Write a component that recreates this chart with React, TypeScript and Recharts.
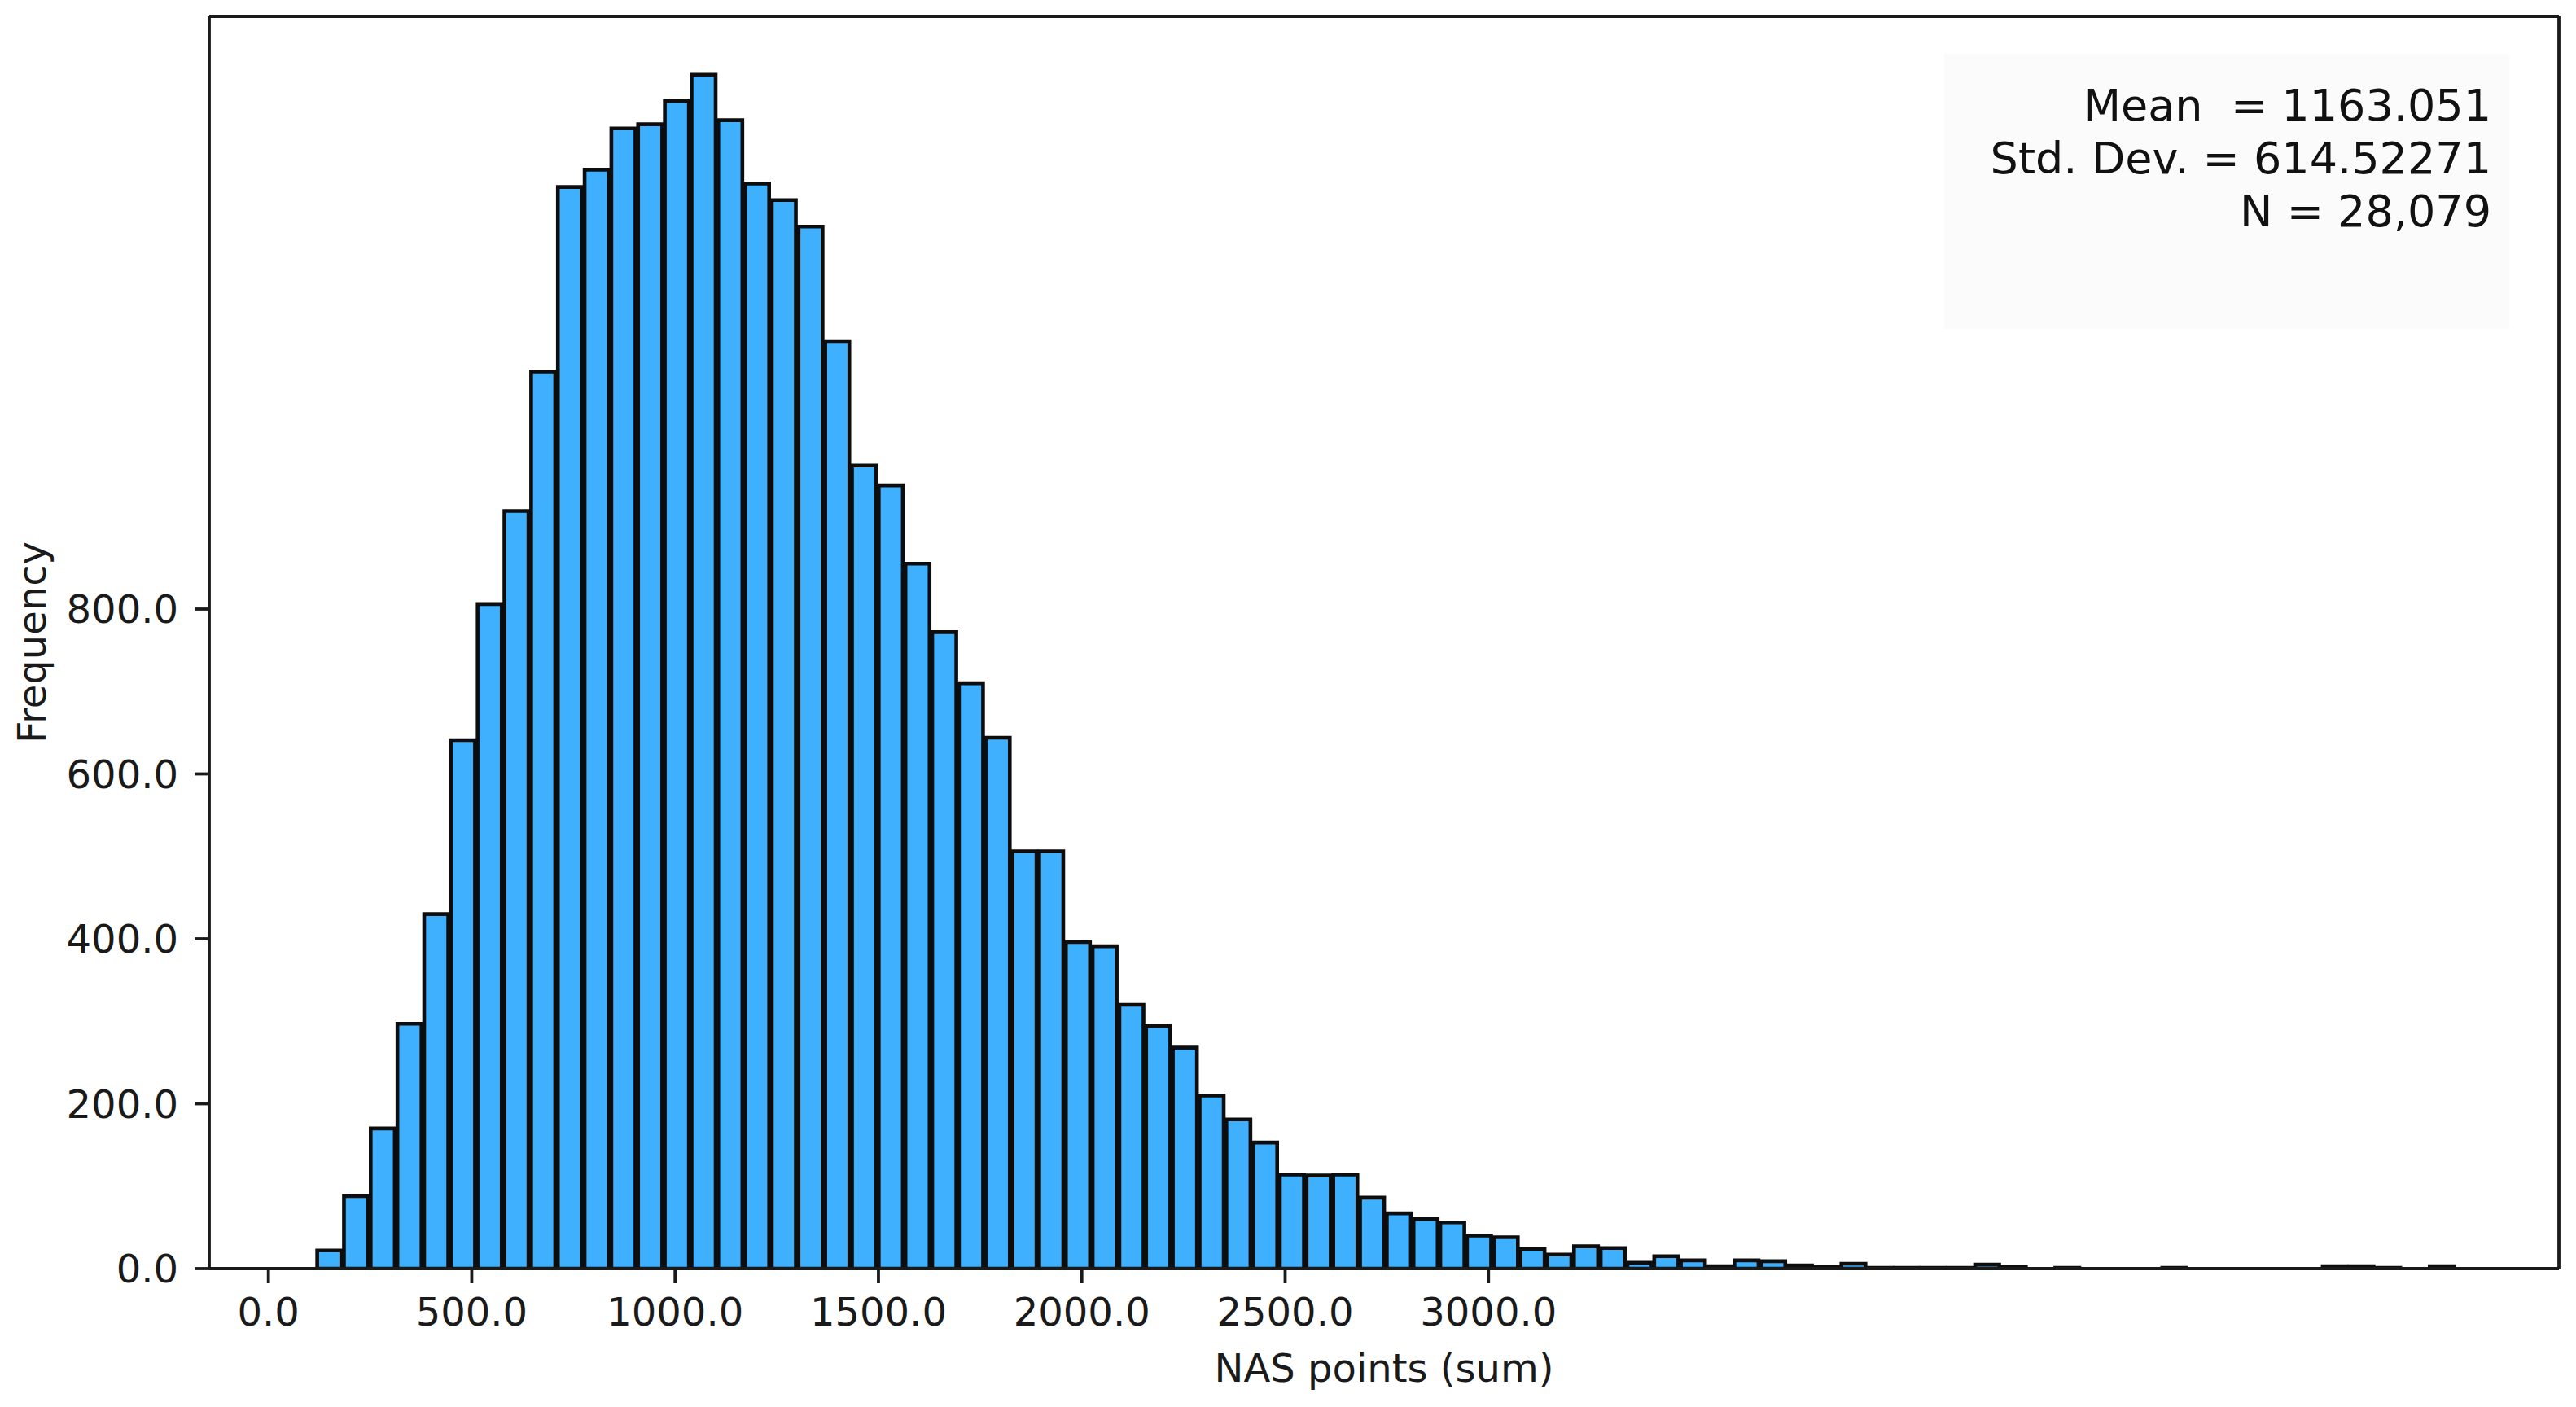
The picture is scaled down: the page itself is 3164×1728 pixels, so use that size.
import React from "react";
import { BarChart, Bar, XAxis, YAxis, ReferenceLine, Customized } from "recharts";

// histogram bins: 80 equal bins starting at BIN_START
const BIN_START = 116;
const BIN_WIDTH = 65.75;
const COUNTS = [
  22, 88, 170, 297, 430, 641, 806, 919, 1088, 1312,
  1333, 1383, 1388, 1416, 1448, 1393, 1316, 1296, 1264, 1125,
  974, 950, 855, 772, 710, 644, 506, 506, 396, 391,
  320, 294, 268, 210, 181, 153, 114, 113, 114, 86,
  67, 60, 56, 40, 38, 24, 17, 27, 25, 7,
  15, 10, 3, 10, 9, 4, 2, 6, 1, 1,
  1, 1, 5, 2, 0, 1, 0, 0, 0, 1,
  0, 0, 0, 0, 0, 3, 3, 1, 0, 3,
];
const X_TICKS = [0, 500, 1000, 1500, 2000, 2500, 3000];
const Y_TICKS = [0, 200, 400, 600, 800];
const STATS = ["Mean\u00a0 = 1163.051", "Std. Dev. = 614.52271", "N = 28,079"];

const X_MIN = -145.5;
const X_MAX = 5632;
const Y_MAX = 1519;

const W = 3164;
const H = 1728;
const MARGIN = { top: 20, right: 21, left: 0, bottom: 0 };
const Y_AXIS_W = 257;
const X_AXIS_H = 170;
const FONT = "DejaVu Sans";
const INK = "#1a1a1a";
const BAR_FILL = "#3fb0fd";
const LINE_W = 3.8;

const data = COUNTS.map((count, i) => ({
  center: BIN_START + (i + 0.5) * BIN_WIDTH,
  count,
}));

const plotW = W - Y_AXIS_W - MARGIN.left - MARGIN.right;
const barSize = (BIN_WIDTH / (X_MAX - X_MIN)) * plotW;

const tickStyle = { fontFamily: FONT, fontSize: 48, fill: INK };

function StatsBox() {
  return (
    <g>
      <rect x={2388} y={66} width={694} height={338} fill="#fbfbfb" />
      {STATS.map((s, i) => (
        <text
          key={i}
          x={3060}
          y={148 + i * 65}
          textAnchor="end"
          fontFamily={FONT}
          fontSize={54}
          fill="#111"
        >
          {s}
        </text>
      ))}
    </g>
  );
}

function YLabel(props: any) {
  const vb = props.viewBox || { x: 0, y: 0, height: 0 };
  const x = vb.x + 39;
  const y = vb.y + vb.height / 2;
  return (
    <text
      x={x}
      y={y}
      transform={`rotate(-90 ${x} ${y})`}
      textAnchor="middle"
      dominantBaseline="central"
      fontFamily={FONT}
      fontSize={48}
      fill={INK}
    >
      Frequency
    </text>
  );
}

export default function App() {
  return (
    <div style={{ position: "absolute", left: 0, top: 0, width: W, height: H, background: "#fff" }}>
      <BarChart
        width={W}
        height={H}
        data={data}
        margin={MARGIN}
        barCategoryGap={0}
        barGap={0}
      >
        <XAxis
          dataKey="center"
          type="number"
          domain={[X_MIN, X_MAX]}
          allowDataOverflow
          ticks={X_TICKS}
          tickFormatter={(v: number) => v.toFixed(1)}
          height={X_AXIS_H}
          tick={tickStyle}
          tickSize={18}
          tickMargin={18}
          axisLine={{ stroke: INK, strokeWidth: LINE_W }}
          tickLine={{ stroke: INK, strokeWidth: LINE_W }}
          label={{
            value: "NAS points (sum)",
            position: "insideBottom",
            offset: 31,
            fontFamily: FONT,
            fontSize: 48,
            fill: INK,
          }}
        />
        <YAxis
          type="number"
          domain={[0, Y_MAX]}
          allowDataOverflow
          ticks={Y_TICKS}
          tickFormatter={(v: number) => v.toFixed(1)}
          width={Y_AXIS_W}
          tick={tickStyle}
          tickSize={18}
          tickMargin={20}
          axisLine={{ stroke: INK, strokeWidth: LINE_W }}
          tickLine={{ stroke: INK, strokeWidth: LINE_W }}
          label={{ content: YLabel }}
        />
        <Bar
          dataKey="count"
          fill={BAR_FILL}
          stroke="#0d0d0d"
          strokeWidth={4.6}
          barSize={barSize}
          isAnimationActive={false}
        />
        <ReferenceLine y={Y_MAX} stroke={INK} strokeWidth={LINE_W} />
        <ReferenceLine x={X_MAX} stroke={INK} strokeWidth={LINE_W} />
        <Customized component={StatsBox} />
      </BarChart>
    </div>
  );
}
